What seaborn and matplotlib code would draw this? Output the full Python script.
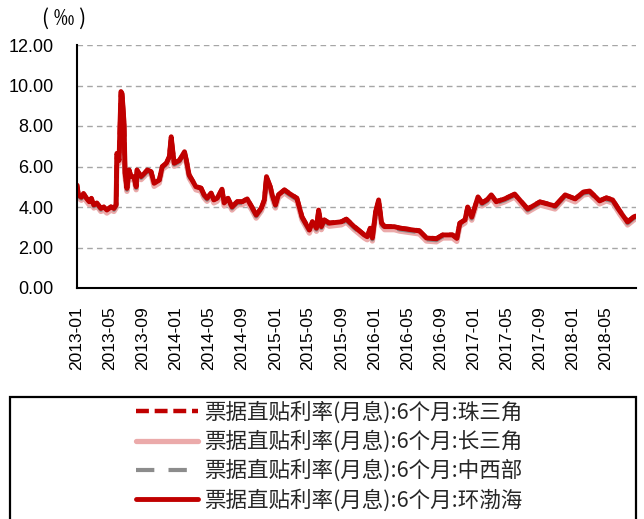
import matplotlib
matplotlib.use("Agg")
import matplotlib.pyplot as plt
import matplotlib.dates as mdates
from matplotlib.patches import Rectangle
from matplotlib.font_manager import FontProperties
from matplotlib.ticker import FormatStrFormatter
import pandas as pd
import seaborn as sns

# Observation dates of the 6-month bill direct-discount rate (monthly, ‰)
date_strings = [
    # 2013
    "2013-01-01", "2013-01-06", "2013-01-17", "2013-01-25", "2013-02-05", "2013-02-15", "2013-02-23", "2013-03-04", "2013-03-15", "2013-03-30",
    "2013-04-10", "2013-04-21", "2013-05-06", "2013-05-17", "2013-05-25", "2013-05-28", "2013-06-05", "2013-06-12", "2013-06-16", "2013-06-23",
    "2013-06-27", "2013-07-04", "2013-07-12", "2013-07-19", "2013-07-30", "2013-08-07", "2013-08-10", "2013-08-25", "2013-09-06", "2013-09-17",
    "2013-10-01", "2013-10-12", "2013-10-31", "2013-11-11", "2013-11-26", "2013-12-07", "2013-12-14", "2013-12-18", "2013-12-25",
    # 2014
    "2014-01-13", "2014-02-01", "2014-02-08", "2014-02-18", "2014-03-01", "2014-03-15", "2014-04-03", "2014-04-14", "2014-04-25", "2014-05-10",
    "2014-05-20", "2014-06-01", "2014-06-19", "2014-06-27", "2014-07-11", "2014-07-26", "2014-08-14", "2014-09-02", "2014-09-20", "2014-10-09",
    "2014-10-23", "2014-11-11", "2014-11-22", "2014-11-30", "2014-12-14", "2014-12-21",
    # 2015
    "2015-01-02", "2015-01-13", "2015-02-04", "2015-02-22", "2015-03-22", "2015-04-10", "2015-05-07", "2015-05-18", "2015-06-02", "2015-06-10",
    "2015-06-20", "2015-07-01", "2015-07-19", "2015-09-02", "2015-09-20", "2015-10-19", "2015-11-25", "2015-12-06", "2015-12-17", "2015-12-25",
    # 2016
    "2016-01-06", "2016-01-17", "2016-01-28", "2016-02-08", "2016-03-15", "2016-04-03", "2016-06-15", "2016-07-11", "2016-08-17", "2016-09-09",
    "2016-10-15", "2016-10-31", "2016-11-11", "2016-11-30", "2016-12-10", "2016-12-25",
    # 2017
    "2017-01-17", "2017-02-01", "2017-02-19", "2017-03-07", "2017-03-25", "2017-04-25", "2017-06-01", "2017-07-19", "2017-09-02", "2017-10-28",
    "2017-12-04",
    # 2018
    "2018-01-10", "2018-02-09", "2018-03-04", "2018-04-10", "2018-05-05", "2018-05-28", "2018-06-23", "2018-07-22", "2018-08-13", "2018-08-20",
]

# 珠三角 (Pearl River Delta)
zhu_sanjiao = [
    5.10, 4.62, 4.50, 4.66, 4.44, 4.28, 4.42, 4.12, 4.19, 3.95,
    4.01, 3.87, 4.02, 3.95, 4.10, 6.62, 6.32, 9.68, 9.58, 8.18,
    5.68, 4.94, 5.82, 5.52, 5.49, 5.02, 5.82, 5.52, 5.65, 5.82,
    5.75, 5.19, 5.34, 5.99, 6.17, 6.48, 7.44, 6.96, 6.18,
    6.31, 6.71, 6.31, 5.60, 5.34, 5.02, 4.94, 4.62, 4.45, 4.68,
    4.37, 4.44, 4.87, 4.22, 4.44, 4.02, 4.27, 4.27, 4.41, 3.97,
    3.62, 3.96, 4.36, 5.48, 5.01, 4.62,
    4.12, 4.61, 4.84, 4.68, 4.44, 3.52, 2.88, 3.28, 2.97, 3.84,
    3.05, 3.37, 3.22, 3.28, 3.41, 3.05, 2.64, 2.55, 2.96, 2.49,
    3.76, 4.33, 3.22, 3.05, 3.04, 2.97, 2.84, 2.49, 2.45, 2.63,
    2.63, 2.47, 3.21, 3.37, 3.99, 3.52,
    4.49, 4.22, 4.36, 4.59, 4.28, 4.41, 4.63, 3.92, 4.26, 4.07,
    4.59,
    4.41, 4.73, 4.78, 4.32, 4.46, 4.36, 3.82, 3.28, 3.51, 3.56,
]

# 长三角 (Yangtze River Delta)
chang_sanjiao = [
    4.95, 4.45, 4.33, 4.52, 4.28, 4.11, 4.28, 3.95, 4.05, 3.78,
    3.85, 3.70, 3.85, 3.78, 3.95, 6.45, 6.15, 9.50, 9.40, 8.00,
    5.50, 4.77, 5.68, 5.35, 5.35, 4.85, 5.68, 5.35, 5.51, 5.68,
    5.59, 5.02, 5.18, 5.85, 6.01, 6.34, 7.25, 6.80, 6.01,
    6.15, 6.55, 6.15, 5.43, 5.18, 4.85, 4.78, 4.45, 4.28, 4.54,
    4.20, 4.28, 4.70, 4.05, 4.28, 3.85, 4.11, 4.11, 4.25, 3.80,
    3.45, 3.80, 4.20, 5.30, 4.85, 4.45,
    3.95, 4.45, 4.70, 4.52, 4.28, 3.35, 2.71, 3.12, 2.80, 3.68,
    2.88, 3.21, 3.05, 3.12, 3.25, 2.88, 2.47, 2.38, 2.80, 2.32,
    3.60, 4.15, 3.05, 2.88, 2.88, 2.81, 2.67, 2.32, 2.28, 2.47,
    2.47, 2.30, 3.05, 3.21, 3.85, 3.35,
    4.35, 4.05, 4.20, 4.45, 4.11, 4.25, 4.49, 3.75, 4.10, 3.90,
    4.45,
    4.25, 4.59, 4.64, 4.15, 4.30, 4.20, 3.65, 3.11, 3.35, 3.40,
]

# 中西部 (Central and Western regions)
zhong_xibu = [
    5.01, 4.53, 4.41, 4.60, 4.36, 4.19, 4.36, 4.03, 4.13, 3.86,
    3.93, 3.78, 3.93, 3.86, 4.03, 6.58, 6.23, 9.63, 9.53, 8.13,
    5.59, 4.85, 5.76, 5.43, 5.43, 4.93, 5.76, 5.43, 5.59, 5.76,
    5.67, 5.10, 5.26, 5.93, 6.09, 6.42, 7.40, 6.91, 6.09,
    6.23, 6.66, 6.23, 5.51, 5.26, 4.93, 4.86, 4.53, 4.36, 4.62,
    4.28, 4.36, 4.81, 4.13, 4.36, 3.93, 4.19, 4.19, 4.33, 3.88,
    3.53, 3.88, 4.28, 5.43, 4.93, 4.53,
    4.03, 4.53, 4.78, 4.60, 4.36, 3.43, 2.79, 3.20, 2.88, 3.78,
    2.96, 3.29, 3.13, 3.20, 3.33, 2.96, 2.55, 2.46, 2.88, 2.40,
    3.70, 4.28, 3.13, 2.96, 2.96, 2.89, 2.75, 2.40, 2.36, 2.55,
    2.55, 2.38, 3.13, 3.29, 3.93, 3.43,
    4.43, 4.13, 4.28, 4.53, 4.19, 4.33, 4.57, 3.83, 4.18, 3.98,
    4.53,
    4.33, 4.67, 4.72, 4.23, 4.38, 4.28, 3.73, 3.19, 3.43, 3.48,
]

# 环渤海 (Bohai Rim)
huan_bohai = [
    5.08, 4.60, 4.48, 4.67, 4.43, 4.26, 4.43, 4.10, 4.20, 3.93,
    4.00, 3.85, 4.00, 3.93, 4.10, 6.65, 6.30, 9.70, 9.60, 8.20,
    5.66, 4.92, 5.83, 5.50, 5.50, 5.00, 5.83, 5.50, 5.66, 5.83,
    5.74, 5.17, 5.33, 6.00, 6.16, 6.49, 7.47, 6.98, 6.16,
    6.30, 6.73, 6.30, 5.58, 5.33, 5.00, 4.93, 4.60, 4.43, 4.69,
    4.35, 4.43, 4.88, 4.20, 4.43, 4.00, 4.26, 4.26, 4.40, 3.95,
    3.60, 3.95, 4.35, 5.50, 5.00, 4.60,
    4.10, 4.60, 4.85, 4.67, 4.43, 3.50, 2.86, 3.27, 2.95, 3.85,
    3.03, 3.36, 3.20, 3.27, 3.40, 3.03, 2.62, 2.53, 2.95, 2.47,
    3.77, 4.35, 3.20, 3.03, 3.03, 2.96, 2.82, 2.47, 2.43, 2.62,
    2.62, 2.45, 3.20, 3.36, 4.00, 3.50,
    4.50, 4.20, 4.35, 4.60, 4.26, 4.40, 4.64, 3.90, 4.25, 4.05,
    4.60,
    4.40, 4.74, 4.79, 4.30, 4.45, 4.35, 3.80, 3.26, 3.50, 3.55,
]

prefix = "票据直贴利率(月息):6个月:"
series_names = ["珠三角", "长三角", "中西部", "环渤海"]
y_ticks = [0, 2, 4, 6, 8, 10, 12]

rates = pd.DataFrame({
    "date": pd.to_datetime(date_strings),
    "珠三角": zhu_sanjiao,
    "长三角": chang_sanjiao,
    "中西部": zhong_xibu,
    "环渤海": huan_bohai,
})

sns.set_theme(style="white")
plt.rcParams["font.family"] = ["Liberation Sans", "DejaVu Sans"]

W, H = 644, 519
fig = plt.figure(figsize=(W / 100, H / 100), dpi=100)
ax = fig.add_axes([77 / W, 1 - 288 / H, (636 - 77) / W, (288 - 45) / H])

# line styles per region: colour, width, dash pattern (None = solid)
styles = {
    "长三角": dict(color="#EBAAAA", lw=3.8, dashes=None),
    "中西部": dict(color="#8C8C8C", lw=3.0, dashes=(4.4, 3.4)),
    "珠三角": dict(color="#C00000", lw=3.2, dashes=(2.9, 1.3)),
    "环渤海": dict(color="#C00000", lw=3.5, dashes=None),
}

handles = {}
for name in ["长三角", "中西部", "珠三角", "环渤海"]:
    st = styles[name]
    sns.lineplot(data=rates, x="date", y=name, ax=ax, color=st["color"],
                 lw=st["lw"], label=prefix + name)
    line = ax.lines[-1]
    if st["dashes"] is not None:
        line.set_dashes(st["dashes"])
    handles[name] = line

if ax.get_legend() is not None:
    ax.get_legend().remove()

# axes styling
ax.set_xlabel("")
ax.set_ylabel("")
ax.set_ylim(0, 12)
ax.set_yticks(y_ticks)
ax.yaxis.set_major_formatter(FormatStrFormatter("%.2f"))
ax.set_xlim(pd.Timestamp("2013-01-01"), pd.Timestamp("2018-08-22"))
ax.xaxis.set_major_locator(mdates.MonthLocator(bymonth=[1, 5, 9]))
ax.xaxis.set_major_formatter(mdates.DateFormatter("%Y-%m"))

ax.grid(False)
ax.yaxis.grid(True, color="#A6A6A6", linestyle=(0, (4, 3)), lw=1.0)
ax.set_axisbelow(True)

for side in ["top", "right"]:
    ax.spines[side].set_visible(False)
for side in ["left", "bottom"]:
    ax.spines[side].set_color("black")
    ax.spines[side].set_linewidth(1.5)

ax.tick_params(axis="both", direction="out", length=5, width=1.5,
               color="black", labelcolor="black")
ax.tick_params(axis="y", labelsize=13, pad=12)
ax.tick_params(axis="x", labelsize=12.5, pad=8, labelrotation=90)

# unit label above the y axis
fig.text(64 / W, 1 - 19 / H, "( ‰ )", ha="center", va="center", fontsize=15,
         family=["Noto Sans CJK SC", "DejaVu Sans"], color="black")

# legend below the plot inside a bordered box
leg_font = FontProperties(family=["Noto Sans CJK SC", "DejaVu Sans"], size=15.5)
fig.legend([handles[n] for n in series_names], [prefix + n for n in series_names],
           loc="upper center", bbox_to_anchor=(329 / W, 1 - 397 / H),
           frameon=False, prop=leg_font, handlelength=2.9, handletextpad=0.25,
           labelspacing=0.31, borderaxespad=0.0, borderpad=0.2)
fig.add_artist(Rectangle((10 / W, -0.05), 626 / W, 0.05 + 1 - 397 / H,
                         transform=fig.transFigure, fill=False,
                         edgecolor="black", lw=1.6))

fig.savefig("out.png", dpi=100)
